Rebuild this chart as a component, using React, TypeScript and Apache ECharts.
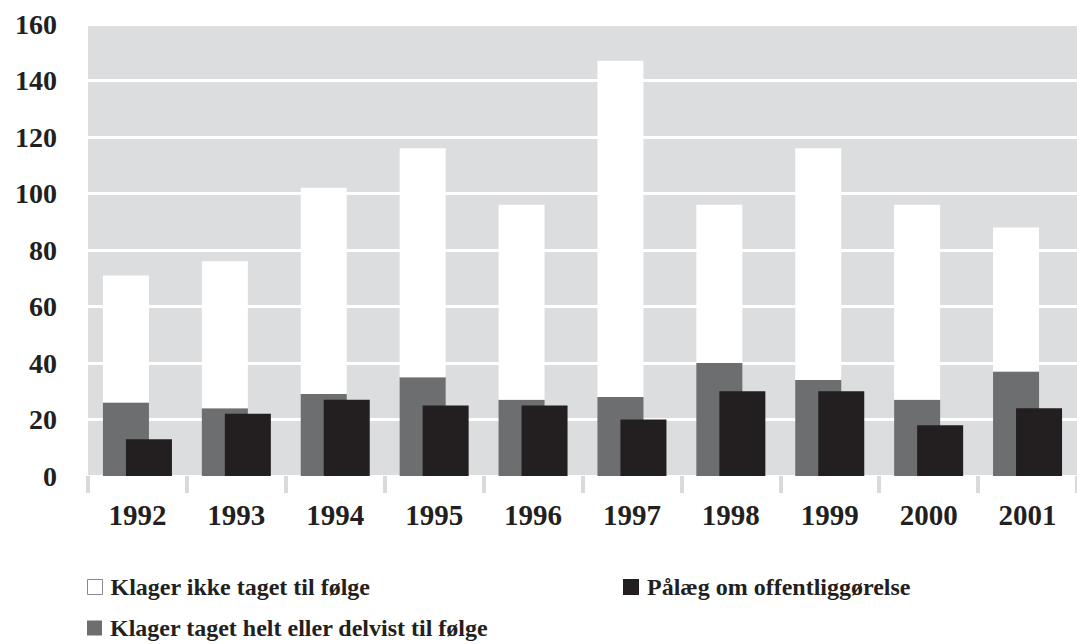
import React, { useEffect, useRef } from "react";
import * as echarts from "echarts";

const years = ["1992", "1993", "1994", "1995", "1996", "1997", "1998", "1999", "2000", "2001"];
// Klager taget helt eller delvist til følge (grey, bottom of stack)
const upheld = [26, 24, 29, 35, 27, 28, 40, 34, 27, 37];
// Klager ikke taget til følge (white, stacked on top of grey)
const notUpheld = [45, 52, 73, 81, 69, 119, 56, 82, 69, 51];
// Pålæg om offentliggørelse (black)
const orders = [13, 22, 27, 25, 25, 20, 30, 30, 18, 24];

const NAME_WHITE = "Klager ikke taget til følge";
const NAME_GREY = "Klager taget helt eller delvist til følge";
const NAME_BLACK = "Pålæg om offentliggørelse";

const FONT = "Liberation Serif";
const TXT = "#231f20";

export default function App() {
  const ref = useRef<HTMLDivElement>(null);
  useEffect(() => {
    if (!ref.current) return;
    const chart = echarts.init(ref.current, undefined, { renderer: "svg" });
    const legendText = {
      fontFamily: FONT,
      fontWeight: "bold",
      fontSize: 24,
      color: TXT,
      padding: [0, 0, 0, 3],
    };
    chart.setOption({
      animation: false,
      backgroundColor: "#ffffff",
      textStyle: { fontFamily: FONT },
      grid: {
        left: 88,
        right: 0,
        top: 24,
        bottom: 168,
        show: true,
        backgroundColor: "#dcdddf",
        borderWidth: 0,
      },
      xAxis: {
        type: "category",
        data: years,
        axisLine: { show: false },
        axisTick: { show: true, length: 17, lineStyle: { color: "#d9dadc", width: 4 } },
        axisLabel: {
          margin: 24,
          fontFamily: FONT,
          fontWeight: "bold",
          fontSize: 29,
          color: TXT,
        },
      },
      yAxis: {
        type: "value",
        min: 0,
        max: 160,
        interval: 20,
        axisLine: { show: false },
        axisTick: { show: false },
        axisLabel: {
          margin: 31,
          fontFamily: FONT,
          fontWeight: "bold",
          fontSize: 28,
          color: TXT,
        },
        splitLine: { show: true, lineStyle: { color: "#ffffff", width: 3 } },
      },
      legend: [
        {
          data: [{ name: NAME_WHITE, itemStyle: { borderColor: "#8a8a8c", borderWidth: 1 } }],
          left: 87,
          top: 575,
          padding: 0,
          icon: "rect",
          itemWidth: 15,
          itemHeight: 15,
          textStyle: legendText,
          selectedMode: false,
        },
        {
          data: [NAME_BLACK],
          left: 623,
          top: 575,
          padding: 0,
          icon: "rect",
          itemWidth: 16,
          itemHeight: 16,
          textStyle: legendText,
          selectedMode: false,
        },
        {
          data: [NAME_GREY],
          left: 87,
          top: 616,
          padding: 0,
          icon: "rect",
          itemWidth: 15,
          itemHeight: 15,
          textStyle: legendText,
          selectedMode: false,
        },
      ],
      series: [
        {
          name: NAME_GREY,
          type: "bar",
          stack: "complaints",
          data: upheld,
          barWidth: 46,
          barGap: "-50%",
          itemStyle: { color: "#6d6e70" },
        },
        {
          name: NAME_WHITE,
          type: "bar",
          stack: "complaints",
          data: notUpheld,
          barWidth: 46,
          barGap: "-50%",
          itemStyle: { color: "#ffffff" },
        },
        {
          name: NAME_BLACK,
          type: "bar",
          data: orders,
          barWidth: 46,
          barGap: "-50%",
          itemStyle: { color: "#231f20" },
        },
      ],
    });
    return () => chart.dispose();
  }, []);
  return (
    <div
      ref={ref}
      style={{ position: "fixed", left: 0, top: 0, width: 1077, height: 644, background: "#fff" }}
    />
  );
}
